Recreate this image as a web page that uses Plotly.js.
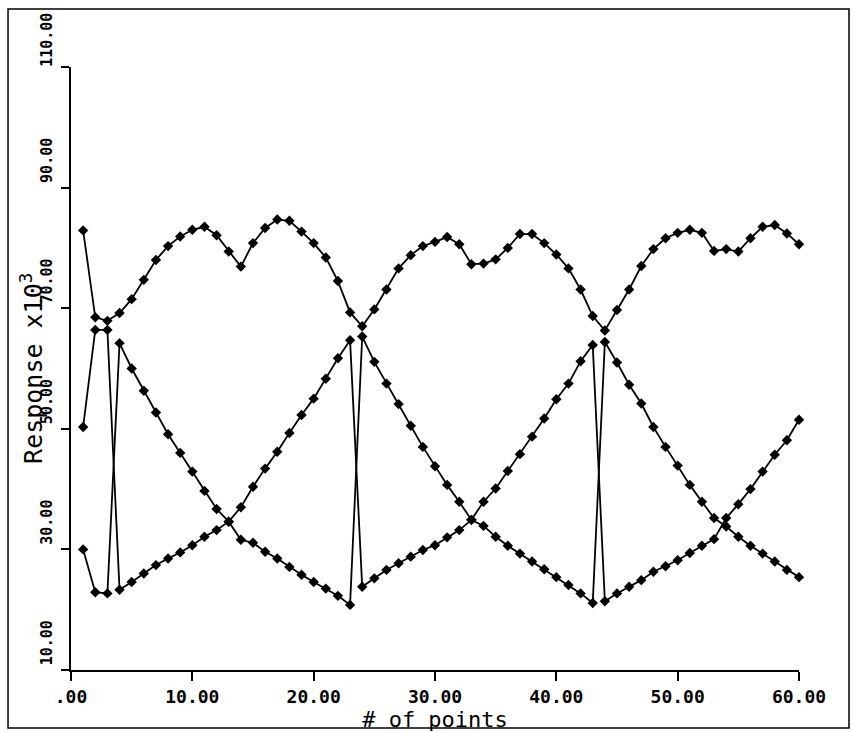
<!DOCTYPE html>
<html>
<head>
<meta charset="utf-8">
<script src="https://cdn.plot.ly/plotly-3.0.1.min.js"></script>
<style>html,body{margin:0;padding:0;background:#fff;}#chart{width:853px;height:732px;}</style>
</head>
<body>
<div id="chart"></div>
<script>
// ---- data ----
const points = [1,2,3,4,5,6,7,8,9,10,11,12,13,14,15,16,17,18,19,20,
                21,22,23,24,25,26,27,28,29,30,31,32,33,34,35,36,37,38,39,40,
                41,42,43,44,45,46,47,48,49,50,51,52,53,54,55,56,57,58,59,60];

const upperResponse = [82.9,68.5,67.9,69.2,71.5,74.7,78.0,80.3,81.9,83.0,
                       83.5,82.1,79.4,76.9,80.8,83.3,84.7,84.5,82.7,80.8,
                       78.4,74.5,69.3,67.0,69.8,73.1,76.6,78.8,80.3,81.0,
                       81.8,80.6,77.3,77.4,78.1,80.0,82.3,82.3,80.8,78.9,
                       76.6,73.1,68.7,66.3,69.7,73.1,77.0,79.8,81.6,82.5,
                       83.0,82.5,79.5,79.8,79.4,81.6,83.5,83.8,82.4,80.6];

const risingResponse = [50.3,66.4,66.4,23.3,24.6,26.0,27.4,28.5,29.5,30.7,
                        32.1,33.2,34.6,37.0,40.4,43.4,46.2,49.3,52.3,55.0,
                        58.3,61.7,64.7,23.8,25.2,26.6,27.7,28.8,29.9,30.7,
                        32.0,33.2,34.9,37.9,40.1,43.0,45.8,48.7,51.7,54.9,
                        57.5,61.2,63.9,21.4,22.7,23.8,24.9,26.3,27.2,28.2,
                        29.4,30.6,31.7,35.2,37.5,40.0,42.9,45.7,48.1,51.5];

const fallingResponse = [30.0,22.9,22.7,64.2,60.0,56.3,52.7,49.1,46.0,42.9,
                         39.7,36.7,34.6,31.6,31.1,29.6,28.5,27.1,25.8,24.6,
                         23.5,22.3,20.8,65.3,61.1,57.5,54.1,50.5,47.0,43.8,
                         40.7,37.9,34.9,33.9,32.1,30.6,29.3,28.0,26.7,25.4,
                         24.1,22.7,21.1,64.4,61.0,57.3,54.2,50.3,47.0,43.9,
                         40.7,37.9,35.2,33.8,32.1,30.6,29.3,28.0,26.6,25.4];

const xTickVals = [0,10,20,30,40,50,60];
const xTickText = [".00","10.00","20.00","30.00","40.00","50.00","60.00"];
const yTickVals = [10,30,50,70,90,110];
const yTickText = ["10.00","30.00","50.00","70.00","90.00","110.00"];
const xTitle = '# of points';
const yTitle = 'Response x10<sup>3</sup>';

// ---- drawing ----
const lineStyle = {color:'#000', width:1.8};
const markerStyle = {symbol:'diamond', size:8, color:'#000'};
function series(y, name){
  return {x: points, y: y, name: name, type:'scatter', mode:'lines+markers',
          line: lineStyle, marker: markerStyle, showlegend:false, cliponaxis:false};
}
const traces = [
  series(upperResponse, 'upper'),
  series(risingResponse, 'rising'),
  series(fallingResponse, 'falling')
];

const mono = 'DejaVu Sans Mono, Liberation Mono, monospace';
const layout = {
  width: 853, height: 732,
  margin: {l:71, r:54, t:67, b:62, pad:0},
  paper_bgcolor:'#fff', plot_bgcolor:'#fff',
  showlegend:false,
  xaxis: {
    range:[0,60], autorange:false,
    tickmode:'array', tickvals:xTickVals, ticktext:xTickText,
    ticks:'outside', ticklen:9, tickwidth:2, tickcolor:'#000',
    showline:true, linewidth:2, linecolor:'#000', mirror:false,
    showgrid:false, zeroline:false,
    tickfont:{family:mono, size:18, color:'#000', weight:'bold'},
    title:{text:xTitle, font:{family:mono, size:22, color:'#000'}, standoff:1},
    automargin:false
  },
  yaxis: {
    range:[10,110], autorange:false,
    tickmode:'array', tickvals:yTickVals, ticktext:yTickText,
    tickangle:-90, ticklabelshift:-25, ticklabelstandoff:3,
    ticks:'outside', ticklen:8, tickwidth:2, tickcolor:'#000',
    showline:true, linewidth:2, linecolor:'#000', mirror:false,
    showgrid:false, zeroline:false,
    tickfont:{family:mono, size:15, color:'#000', weight:'bold'},
    automargin:false
  },
  annotations: [{
    text: yTitle, xref:'paper', yref:'paper', x:-0.053, y:0.5,
    xanchor:'center', yanchor:'middle', textangle:-90, showarrow:false,
    font:{family:mono, size:25, color:'#000'}
  }],
  shapes: [{
    type:'rect', xref:'paper', yref:'paper',
    x0:-0.0865, x1:1.0687, y0:-0.0962, y1:1.0962,
    line:{color:'#000', width:1.5}, layer:'below'
  }]
};

Plotly.newPlot('chart', traces, layout, {displayModeBar:false, staticPlot:true});
</script>
</body>
</html>
